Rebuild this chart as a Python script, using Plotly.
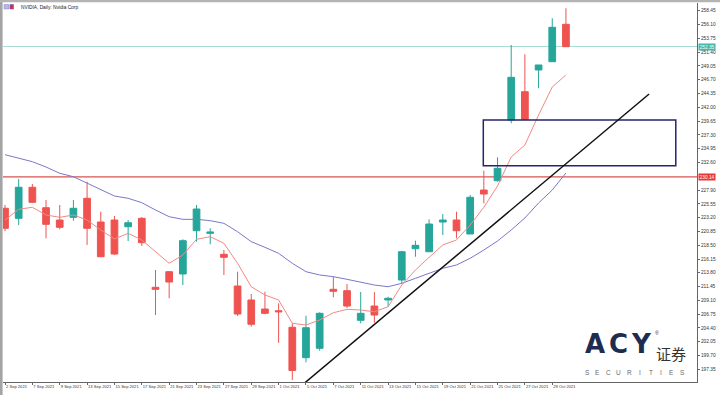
import plotly.graph_objects as go

# ---------------- data ----------------
date_labels = ["2 Sep 2021", "7 Sep 2021", "9 Sep 2021", "13 Sep 2021", "15 Sep 2021",
               "17 Sep 2021", "21 Sep 2021", "23 Sep 2021", "27 Sep 2021", "29 Sep 2021",
               "1 Oct 2021", "5 Oct 2021", "7 Oct 2021", "11 Oct 2021", "13 Oct 2021",
               "15 Oct 2021", "19 Oct 2021", "21 Oct 2021", "25 Oct 2021", "27 Oct 2021",
               "29 Oct 2021"]

opens = [224.79, 223.08, 228.37, 224.89, 222.79, 223.25, 226.49, 222.45, 222.79, 221.65,
         223.08, 211.33, 213.99, 213.60, 220.97, 220.53, 216.95, 211.55, 209.17, 207.63,
         207.34, 204.52, 199.34, 200.94, 210.99, 210.75, 205.71, 208.14, 209.17, 212.57,
         217.91, 217.39, 222.45, 222.79, 220.41, 227.90, 229.49, 239.83, 244.65, 248.35,
         249.76, 256.13]
highs = [225.35, 229.78, 228.93, 226.20, 225.35, 226.20, 229.32, 224.21, 223.48, 222.79,
         223.31, 214.28, 214.11, 219.51, 225.35, 221.38, 217.68, 213.99, 210.19, 210.58,
         208.60, 205.20, 206.49, 207.07, 213.14, 211.89, 210.53, 210.53, 209.73, 217.56,
         219.27, 222.91, 223.82, 224.21, 227.05, 231.19, 233.48, 252.61, 251.02, 249.20,
         257.16, 258.86]
lows = [220.92, 221.94, 225.69, 219.68, 221.21, 222.68, 218.54, 216.49, 216.83, 219.22,
        218.37, 206.61, 209.46, 211.72, 219.10, 218.66, 213.43, 206.44, 204.62, 206.73,
        201.89, 195.54, 198.55, 200.53, 209.63, 207.80, 205.20, 205.30, 208.02, 212.01,
        216.54, 217.39, 220.24, 219.68, 220.41, 225.64, 229.32, 239.27, 239.83, 245.23,
        249.76, 252.32]
closes = [221.38, 228.37, 225.81, 222.06, 221.55, 224.79, 221.38, 216.54, 217.00, 222.33,
          218.93, 210.99, 212.23, 219.27, 224.67, 220.75, 216.44, 206.78, 205.03, 206.90,
          207.17, 197.16, 204.45, 206.90, 210.65, 208.14, 206.90, 206.61, 209.46, 217.39,
          218.48, 222.11, 222.79, 220.97, 226.66, 227.22, 231.60, 247.10, 239.95, 249.20,
          255.62, 252.32]

ma_fast = [222.79, 224.62, 224.96, 223.65, 223.25, 223.65, 222.79, 221.09, 219.56, 220.53,
           219.39, 217.34, 215.42, 216.83, 219.51, 219.95, 218.83, 215.42, 211.43, 210.02,
           209.17, 205.20, 204.91, 205.76, 207.00, 207.58, 207.46, 207.17, 208.02, 211.72,
           214.28, 216.44, 218.54, 219.39, 221.94, 224.96, 228.59, 233.53, 235.57, 240.68,
           245.45, 247.50]
ma_slow = [233.92, 233.36, 232.73, 231.82, 230.75, 230.17, 229.05, 227.90, 226.88, 226.49,
           225.74, 224.50, 223.36, 222.91, 222.91, 222.68, 222.23, 220.80, 219.10, 218.14,
           217.12, 215.42, 213.99, 213.43, 213.14, 212.69, 212.18, 211.72, 211.43, 212.01,
           212.86, 213.71, 214.57, 215.13, 216.27, 217.68, 219.22, 221.09, 223.14, 225.69,
           227.90, 230.80]

price_ticks = [258.45, 256.10, 253.75, 251.40, 249.05, 246.70, 244.35, 242.00, 239.65,
               237.30, 234.95, 232.60, 227.90, 225.55, 223.20, 220.85, 218.50, 216.15,
               213.80, 211.45, 209.10, 206.75, 204.40, 202.05, 199.70, 197.35]

current_price = 252.35
support_level = 230.14
trend_start = (21.9, 195.03)   # (bar index, price)
trend_end = (47.08, 244.26)
zone_x = (34.96, 49.03)        # bar index range
zone_y = (232.04, 239.83)      # price range

# ---------------- styling ----------------
TEAL = "#26a69a"
RED = "#ef5350"
FONT = "Liberation Sans, Arial, sans-serif"
W_PLOT = 694.0
H_PLOT = 379.0

def px_x(p):
    return (p - 3) / W_PLOT

def px_y(p):
    return (382 - p) / H_PLOT

idx = list(range(len(opens)))

fig = go.Figure()
fig.add_trace(go.Candlestick(
    x=idx, open=opens, high=highs, low=lows, close=closes,
    increasing=dict(line=dict(color=TEAL, width=1), fillcolor=TEAL),
    decreasing=dict(line=dict(color=RED, width=1), fillcolor=RED),
    whiskerwidth=0, showlegend=False, hoverinfo="skip"))
fig.add_trace(go.Scatter(x=idx, y=ma_slow, mode="lines",
                         line=dict(color="#7a78c8", width=1), showlegend=False, hoverinfo="skip"))
fig.add_trace(go.Scatter(x=idx, y=ma_fast, mode="lines",
                         line=dict(color="#f08a86", width=1), showlegend=False, hoverinfo="skip"))

shapes = [
    dict(type="line", xref="paper", yref="y", x0=0, x1=1, y0=current_price, y1=current_price,
         line=dict(color="#a8dcd4", width=1), layer="below"),
    dict(type="line", xref="paper", yref="y", x0=0, x1=1, y0=support_level, y1=support_level,
         line=dict(color="#d9534f", width=1.2), layer="below"),
    dict(type="rect", xref="x", yref="y", x0=zone_x[0], x1=zone_x[1], y0=zone_y[0], y1=zone_y[1],
         line=dict(color="#25256e", width=1.5), fillcolor="rgba(0,0,0,0)"),
    dict(type="line", xref="x", yref="y", x0=trend_start[0], y0=trend_start[1],
         x1=trend_end[0], y1=trend_end[1], line=dict(color="#111111", width=1.5)),
    # window frame (left and top)
    dict(type="rect", xref="paper", yref="paper", x0=px_x(0), x1=px_x(2.6), y0=px_y(395), y1=px_y(0),
         fillcolor="#a4a4a4", line=dict(width=0)),
    dict(type="rect", xref="paper", yref="paper", x0=px_x(0), x1=px_x(720), y0=px_y(2.3), y1=px_y(0),
         fillcolor="#b4b4b4", line=dict(width=0)),
    # title icon
    dict(type="rect", xref="paper", yref="paper", x0=px_x(4), x1=px_x(9), y0=px_y(9), y1=px_y(4.5),
         fillcolor="#b9b6e6", line=dict(color="#8884c4", width=0.5)),
    dict(type="rect", xref="paper", yref="paper", x0=px_x(10), x1=px_x(13.5), y0=px_y(9), y1=px_y(4.5),
         fillcolor="#d0324e", line=dict(color="#5050b0", width=0.5)),
]

annotations = [
    dict(xref="paper", yref="paper", x=px_x(19), y=px_y(7), xanchor="left", yanchor="middle",
         text="NVIDIA, Daily: Nvidia Corp", showarrow=False,
         font=dict(family=FONT, size=4.8, color="#222222")),
    dict(xref="paper", yref="y", x=1, y=current_price, xanchor="left", yanchor="middle", xshift=1,
         text=f"{current_price:.2f}", showarrow=False, bgcolor="#45b5a5", borderpad=0.6,
         font=dict(family=FONT, size=4.8, color="#ffffff")),
    dict(xref="paper", yref="y", x=1, y=support_level, xanchor="left", yanchor="middle", xshift=1,
         text=f"{support_level:.2f}", showarrow=False, bgcolor="#e53935", borderpad=0.6,
         font=dict(family=FONT, size=4.8, color="#ffffff")),
]

# ACY logo
for letter, cx in zip(["A", "C", "Y"], [595, 618, 641]):
    annotations.append(dict(xref="paper", yref="paper", x=px_x(cx), y=px_y(344),
                            xanchor="center", yanchor="middle", text=f"<b>{letter}</b>",
                            showarrow=False, font=dict(family="DejaVu Sans", size=26, color="#1e2c50")))
annotations.append(dict(xref="paper", yref="paper", x=px_x(657), y=px_y(333), xanchor="center",
                        yanchor="middle", text="®", showarrow=False,
                        font=dict(family=FONT, size=5, color="#1e2c50")))
annotations.append(dict(xref="paper", yref="paper", x=px_x(671), y=px_y(353), xanchor="center",
                        yanchor="middle", text="证券", showarrow=False,
                        font=dict(family="Noto Sans CJK SC", size=15, color="#333333")))
for k, letter in enumerate("SECURITIES"):
    annotations.append(dict(xref="paper", yref="paper", x=px_x(587 + k * 10.6), y=px_y(372),
                            xanchor="center", yanchor="middle", text=letter, showarrow=False,
                            font=dict(family=FONT, size=6.5, color="#6a6a6a")))

fig.update_layout(
    width=720, height=395,
    margin=dict(l=3, r=23, t=3, b=13, pad=0),
    paper_bgcolor="white", plot_bgcolor="white",
    showlegend=False, hovermode=False,
    shapes=shapes, annotations=annotations,
    font=dict(family=FONT, size=4.8, color="#333333"),
    xaxis=dict(range=[-0.146, 50.58], tickmode="array", tickvals=list(range(0, 41, 2)),
               ticktext=date_labels, ticks="outside", ticklen=2, tickcolor="#666666",
               tickangle=0, ticklabelposition="outside right",
               tickfont=dict(size=4.1, color="#333333"),
               showgrid=False, zeroline=False, showline=True, linecolor="#666666", linewidth=1,
               rangeslider=dict(visible=False), fixedrange=True),
    yaxis=dict(side="right", range=[195.20, 259.76], tickmode="array", tickvals=price_ticks,
               ticktext=[f"{v:.2f}" for v in price_ticks], ticks="outside", ticklen=2,
               tickcolor="#666666", tickfont=dict(size=4.8, color="#333333"),
               showgrid=False, zeroline=False, showline=True, linecolor="#666666", linewidth=1,
               fixedrange=True),
)

fig.write_html("out.html", config={"displayModeBar": False},
               post_script="document.body.style.margin='0px';")
